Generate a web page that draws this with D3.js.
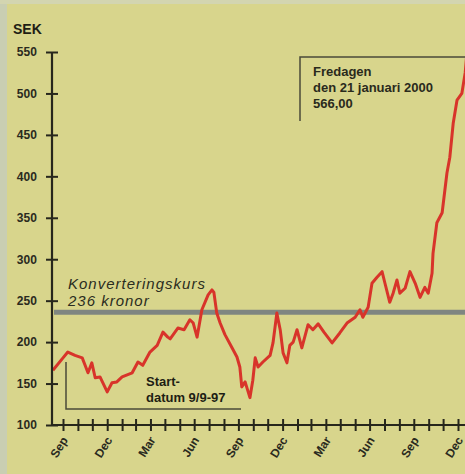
<!DOCTYPE html>
<html>
<head>
<meta charset="utf-8">
<script src="https://cdn.jsdelivr.net/npm/d3@7"></script>
<style>
  body { margin: 0; background: #d8d58c; }
  svg { display: block; }
  .tick text { font-family: "Liberation Sans", Arial, sans-serif; font-weight: bold; fill: #2a2a1e; }
</style>
</head>
<body>
<div id="chart"></div>
<script>
// Ericsson B share price, SEK, Sep 1997 - Jan 2000
const dates = [
  "1997-09-09", "1997-09-30", "1997-10-10", "1997-10-25", "1997-11-09", "1997-11-15",
  "1997-11-21", "1997-11-29", "1997-12-06", "1997-12-16", "1997-12-31",
  "1998-01-10", "1998-01-20", "1998-01-31", "1998-02-21", "1998-03-05", "1998-03-15",
  "1998-03-30", "1998-04-14", "1998-04-26", "1998-05-06", "1998-05-11", "1998-05-27",
  "1998-06-09", "1998-06-21", "1998-06-28", "1998-07-06", "1998-07-16", "1998-07-29",
  "1998-08-06", "1998-08-10", "1998-08-16", "1998-08-23", "1998-09-02", "1998-09-17",
  "1998-09-27", "1998-10-03", "1998-10-07", "1998-10-14", "1998-10-24", "1998-10-30",
  "1998-11-04", "1998-11-10", "1998-11-20", "1998-12-05", "1998-12-11", "1998-12-19",
  "1998-12-26", "1999-01-01", "1999-01-09", "1999-01-15", "1999-01-22", "1999-01-30",
  "1999-02-09", "1999-02-22", "1999-03-04", "1999-03-15", "1999-03-27", "1999-04-13",
  "1999-04-29", "1999-05-14", "1999-05-31", "1999-06-10", "1999-06-16", "1999-06-27",
  "1999-07-05", "1999-07-15", "1999-07-26", "1999-08-01", "1999-08-11", "1999-08-18",
  "1999-08-26", "1999-09-01", "1999-09-12", "1999-09-22", "1999-10-03", "1999-10-13",
  "1999-10-23", "1999-10-30", "1999-11-07", "1999-11-09", "1999-11-17", "1999-11-28",
  "1999-12-08", "1999-12-14", "1999-12-21", "1999-12-29", "2000-01-08", "2000-01-15",
  "2000-01-21"
];
const prices = [
  166, 181, 188, 184, 181, 172,
  163, 175, 157, 158, 140,
  151, 152, 158, 163, 176, 172,
  188, 196, 212, 206, 204, 217,
  215, 227, 223, 206, 239, 257,
  263, 260, 235, 223, 209, 193,
  182, 170, 146, 152, 133, 154,
  181, 170, 176, 184, 199, 235,
  215, 187, 175, 196, 200, 215,
  193, 221, 215, 222, 212, 199,
  211, 223, 230, 239, 230, 242,
  271, 278, 285, 271, 248, 259,
  275, 259, 265, 285, 271, 254,
  266, 259, 283, 307, 344, 356,
  404, 423, 464, 492, 500, 525,
  566
];

const conversionRate = 236;
const yTicks = [100, 150, 200, 250, 300, 350, 400, 450, 500, 550];
const monthNames = ["Jan", "Feb", "Mar", "Apr", "May", "Jun", "Jul", "Aug", "Sep", "Oct", "Nov", "Dec"];
const labelMonths = ["Sep", "Dec", "Mar", "Jun"];

const parse = d3.timeParse("%Y-%m-%d");
const data = dates.map((d, i) => ({ date: parse(d), value: prices[i] }));

// one tick at the end of every month, Sep 1997 .. Dec 1999
const monthTicks = d3.range(28).map(i => new Date(1997, 8 + i + 1, 0));

const width = 465, height = 474;

const svg = d3.select("#chart").append("svg")
    .attr("width", width)
    .attr("height", height);

// paper background
svg.append("rect").attr("width", width).attr("height", height).attr("fill", "#d8d58c");
svg.append("rect").attr("width", 7).attr("height", height).attr("fill", "#c9ceb2");
svg.append("rect").attr("width", width).attr("height", 4).attr("fill", "#d3d5b0");

const x = d3.scaleTime()
    .domain([monthTicks[0], monthTicks[monthTicks.length - 1]])
    .range([63, 458]);

const y = d3.scaleLinear()
    .domain([100, 550])
    .range([425, 52]);

const ink = "#27271c";

// SEK label
svg.append("text")
    .attr("x", 13)
    .attr("y", 34)
    .attr("font-family", "Liberation Sans, Arial, sans-serif")
    .attr("font-weight", "bold")
    .attr("font-size", 14)
    .attr("fill", "#1e1e14")
    .text("SEK");

// conversion rate line
svg.append("line")
    .attr("x1", 54).attr("x2", width)
    .attr("y1", y(conversionRate)).attr("y2", y(conversionRate))
    .attr("stroke", "#7f8681")
    .attr("stroke-width", 5);

svg.append("text")
    .attr("font-family", "Liberation Sans, Arial, sans-serif")
    .attr("font-style", "italic")
    .attr("font-size", 15)
    .attr("letter-spacing", 1)
    .attr("fill", "#2a2c20")
    .selectAll("tspan")
    .data(["Konverteringskurs", "236 kronor"])
    .join("tspan")
    .attr("x", 68)
    .attr("y", (d, i) => 289 + i * 17)
    .text(d => d);

// annotation brackets
const bracket = d3.line();
svg.append("path")
    .attr("d", bracket([[66, 362], [66, 409], [241, 409]]))
    .attr("fill", "none")
    .attr("stroke", "#4a4a38")
    .attr("stroke-width", 1.5);

svg.append("path")
    .attr("d", bracket([[300, 121], [300, 57], [width, 57]]))
    .attr("fill", "none")
    .attr("stroke", "#4a4a38")
    .attr("stroke-width", 1.5);

svg.append("text")
    .attr("font-family", "Liberation Sans, Arial, sans-serif")
    .attr("font-weight", "bold")
    .attr("font-size", 13)
    .attr("fill", "#1e1e14")
    .selectAll("tspan")
    .data(["Start-", "datum 9/9-97"])
    .join("tspan")
    .attr("x", 146)
    .attr("y", (d, i) => 386 + i * 16)
    .text(d => d);

svg.append("text")
    .attr("font-family", "Liberation Sans Narrow, Liberation Sans, Arial, sans-serif")
    .attr("font-weight", "bold")
    .attr("font-size", 13)
    .attr("fill", "#2a2a1c")
    .selectAll("tspan")
    .data(["Fredagen", "den 21 januari 2000", "566,00"])
    .join("tspan")
    .attr("x", 313)
    .attr("y", (d, i) => 76 + i * 16)
    .text(d => d);

// price line
const line = d3.line()
    .x(d => x(d.date))
    .y(d => y(d.value));

svg.append("path")
    .datum(data)
    .attr("fill", "none")
    .attr("stroke", "#d8342a")
    .attr("stroke-width", 3)
    .attr("stroke-linejoin", "round")
    .attr("d", line);

// y axis
const yAxis = svg.append("g")
    .attr("transform", "translate(52,0)")
    .call(d3.axisLeft(y).tickValues(yTicks).tickSize(6).tickPadding(8));
yAxis.select(".domain").attr("stroke", ink).attr("stroke-width", 2.2);
yAxis.selectAll(".tick line").attr("x1", 6).attr("x2", -6).attr("stroke", ink).attr("stroke-width", 2);
yAxis.selectAll(".tick text").attr("font-size", 12).attr("dx", "-0.1em");
yAxis.select(".domain").attr("d", `M0,${y(550)}V${y(100)}`);

// x axis
const xAxis = svg.append("g")
    .attr("transform", `translate(0,${y(100)})`)
    .call(d3.axisBottom(x).tickValues(monthTicks).tickSize(6).tickFormat(d => {
        const m = monthNames[d.getMonth()];
        return labelMonths.includes(m) ? m : "";
    }));
xAxis.select(".domain").attr("d", `M52,0H${width}`).attr("stroke", ink).attr("stroke-width", 2.2);
xAxis.selectAll(".tick line").attr("y1", -6).attr("y2", 6).attr("stroke", ink).attr("stroke-width", 2);
xAxis.selectAll(".tick text")
    .attr("font-size", 12)
    .attr("text-anchor", "end")
    .attr("dy", 0)
    .attr("y", 0)
    .attr("transform", "translate(5,15) rotate(-58)");
</script>
</body>
</html>
